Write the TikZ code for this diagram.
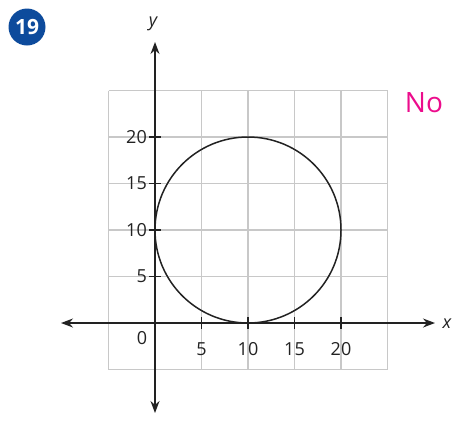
\documentclass[tikz,border=0pt]{standalone}
\usepackage{fontspec}
\setmainfont{Open Sans}
\usetikzlibrary{arrows.meta}
\definecolor{gridgray}{HTML}{C8C8C8}
\definecolor{badgeblue}{HTML}{0D4B9C}
\definecolor{nopink}{HTML}{EC0C8C}
\definecolor{axisdark}{HTML}{222222}
\tikzset{
  gridline/.style={draw=gridgray, line width=1.4pt},
  axisline/.style={draw=axisdark, line width=1.4pt, -{Stealth[length=12pt,width=9pt]}},
  tickline/.style={draw=axisdark, line width=1.3pt},
  ticklabel/.style={font=\fontsize{18}{18}\selectfont, text=axisdark, inner sep=0pt},
  axislabel/.style={font=\fontsize{18}{18}\selectfont\itshape, text=axisdark, inner sep=0pt},
}
\begin{document}
\begin{tikzpicture}[x=1pt,y=-1pt]
\useasboundingbox (0,0) rectangle (462,426);
% grid
\foreach \gx in {108.5,155,201.5,248,294.5,341,387.5}{
  \draw[gridline] (\gx,90.5) -- (\gx,369.5);
}
\foreach \gy in {90.5,137,183.5,230,276.5,323,369.5}{
  \draw[gridline] (108.5,\gy) -- (387.5,\gy);
}
% circle
\node[draw=axisdark, line width=1.5pt, circle, minimum size=186pt, inner sep=0pt] (circ) at (248,230) {};
% axes
\coordinate (xl) at (61,323);
\coordinate (xr) at (435,323);
\coordinate (yb) at (155,413);
\coordinate (yt) at (155,42);
\draw[axisline] (155,323) -- (xl);
\draw[axisline] (155,323) -- (xr);
\draw[axisline] (155,323) -- (yb);
\draw[axisline] (155,323) -- (yt);
% ticks
\foreach \gx in {201.5,248,294.5,341}{
  \draw[tickline] (\gx,317) -- (\gx,329);
}
\foreach \gy in {137,183.5,230,276.5}{
  \draw[tickline] (149,\gy) -- (161,\gy);
}
% tick labels
\node[ticklabel] (l0) at (142,338) {0};
\node[ticklabel] (x5) at (201.5,349) {5};
\node[ticklabel] (x10) at (248,349) {10};
\node[ticklabel] (x15) at (294.5,349) {15};
\node[ticklabel] (x20) at (341,349) {20};
\node[ticklabel, anchor=east] (y20) at (147,137) {20};
\node[ticklabel, anchor=east] (y15) at (147,183.5) {15};
\node[ticklabel, anchor=east] (y10) at (147,230) {10};
\node[ticklabel, anchor=east] (y5) at (147,276.5) {5};
% axis labels
\node[axislabel] (xlab) at (447,324) {x};
\node[axislabel] (ylab) at (153,24) {y};
% No
\node[font=\fontsize{28}{28}\selectfont, text=nopink, inner sep=0pt] (no) at (424,103) {No};
% badge
\node[circle, fill=badgeblue, minimum size=37pt, inner sep=0pt, text=white, font=\fontsize{21}{21}\selectfont\bfseries] (badge) at (27,27) {19};
\end{tikzpicture}
\end{document}
